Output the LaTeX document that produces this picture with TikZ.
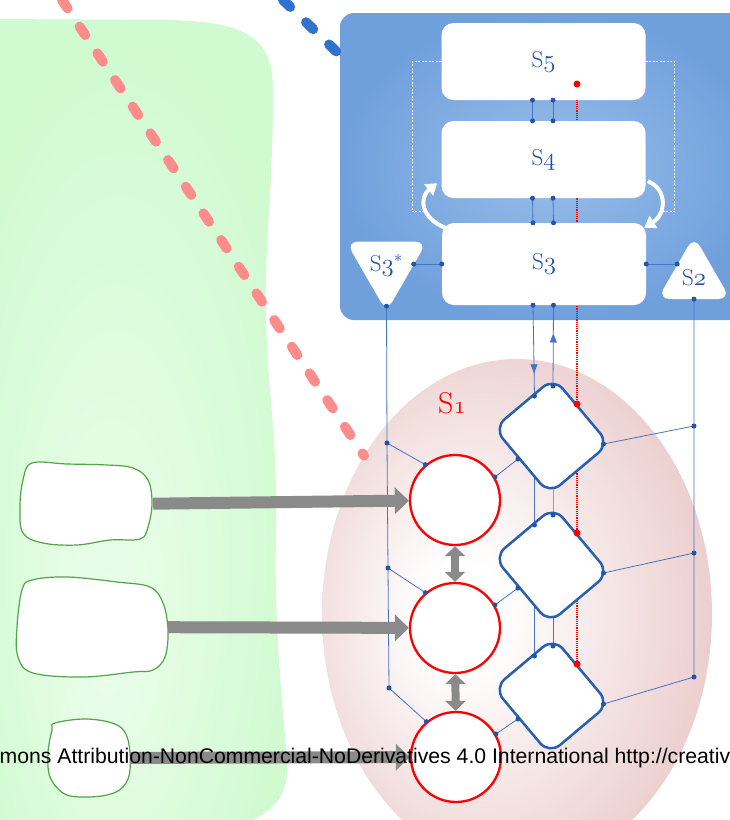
\documentclass[tikz,border=0pt]{standalone}
\usepackage{fontspec}
\usetikzlibrary{shapes, arrows.meta, positioning, calc, decorations.markings}
\newfontfamily\licfont{Liberation Sans}
\definecolor{panelout}{RGB}{112,160,220}
\definecolor{panelin}{RGB}{152,190,233}
\definecolor{labelblue}{RGB}{35,82,165}
\definecolor{wireblue}{RGB}{70,115,195}
\definecolor{dotblue}{RGB}{35,85,165}
\definecolor{tileblue}{RGB}{40,95,175}
\definecolor{zonepink}{RGB}{233,199,199}
\definecolor{fieldgreen}{RGB}{208,250,208}
\definecolor{fieldlight}{RGB}{236,254,236}
\definecolor{blobgreen}{RGB}{80,165,70}
\definecolor{feedgray}{RGB}{138,138,138}
\definecolor{dashpink}{RGB}{255,140,140}
\definecolor{dashblue}{RGB}{48,115,205}
\pgfdeclareradialshading{zoneshade}{\pgfpoint{-8bp}{0bp}}{color(0bp)=(white); color(5bp)=(white); color(28bp)=(zonepink!85!white); color(40bp)=(zonepink); color(50bp)=(zonepink)}
\pgfdeclareradialshading{fieldshade}{\pgfpoint{-6bp}{-14bp}}{color(0bp)=(fieldlight); color(30bp)=(fieldgreen); color(50bp)=(fieldgreen)}
\pgfdeclarelayer{bg}
\pgfdeclarelayer{wires}
\pgfsetlayers{bg,wires,main}
\newcommand{\osn}[1]{{\usefont{OML}{lmm}{m}{it}#1}}

\begin{document}
\begin{tikzpicture}[x=1pt, y=-1pt,
  sbox/.style={fill=white, rounded corners=12pt, minimum width=204pt, minimum height=77pt, text=labelblue, font=\fontsize{23}{25}\selectfont},
  tri/.style={regular polygon, regular polygon sides=3, fill=white, rounded corners=12pt, minimum size=84pt, inner sep=0pt, text=labelblue, font=\fontsize{23}{25}\selectfont},
  tile/.style={draw=tileblue, line width=2.5pt, fill=white, rounded corners=14pt, minimum width=86pt, minimum height=78pt, rotate=-50},
  ring/.style={circle, draw=red, line width=2.3pt, fill=white, minimum size=90pt},
  blob/.style={draw=blobgreen, line width=1.2pt, fill=white},
  wire/.style={draw=wireblue, line width=0.8pt},
  feed/.style={draw=feedgray, line width=12pt, -{Triangle[length=14pt, width=26pt]}},
  twoway/.style={draw=feedgray, line width=8pt, {Triangle[length=10pt, width=20pt]}-{Triangle[length=10pt, width=20pt]}},
  turn/.style={draw=white, line width=4pt, -{Triangle[length=11pt, width=14pt]}},
  guide/.style={draw=white, line width=0.8pt, dash pattern=on 2pt off 1.5pt},
  bigdash/.style={line width=10pt, line cap=round, dash pattern=on 10pt off 22pt}]
\useasboundingbox (0,0) rectangle (729,820);

% background regions
\begin{pgfonlayer}{bg}
\shade[shading=fieldshade] (-10,19) -- (170,20)
  .. controls (250,22) and (273,40) .. (273,90)
  .. controls (273,200) and (264,240) .. (266,320)
  .. controls (268,400) and (278,430) .. (276,540)
  .. controls (274,620) and (282,700) .. (287,760)
  .. controls (290,800) and (270,815) .. (230,830) -- (-10,830) -- cycle;
\node[ellipse, minimum width=390pt, minimum height=510pt, shading=zoneshade] (zone) at (517,614) {};
\node[rounded corners=14pt, minimum width=420pt, minimum height=307pt, inner color=panelin, outer color=panelout] (panel) at (550,166.5) {};
\coordinate (pinkstart) at (62,0);
\coordinate (bluestart) at (283,0);
\coordinate (bluetip) at (340,55);
\draw[bigdash, dashpink] (pinkstart) -- (zone.134);
\draw[bigdash, dashblue] (bluestart) -- (bluetip);
\end{pgfonlayer}

% upper panel
\node[sbox] (s5) at (543.5,61.5) {S\osn{5}};
\node[sbox] (s4) at (543.5,159.5) {S\osn{4}};
\node[sbox, minimum height=82pt] (s3) at (544,264) {S\osn{3}};
\node[tri, shape border rotate=180] (s3star) at (386.5,265) {S\osn{3}$^*$};
\node[tri] (s2) at (694,278) {S\osn{2}};

% lower part
\foreach \i/\y in {1/436, 2/565, 3/696}
  \node[tile] (d\i) at (551.5,\y) {};
\node[ring] (c1) at (455,500) {};
\node[ring] (c2) at (455,628) {};
\node[ring] (c3) at (456,757) {};
\node[text=red, font=\fontsize{30}{32}\selectfont] (s1) at (452,403) {S\osn{1}};

% hand drawn sources
\draw[blob] plot[smooth cycle, tension=0.6] coordinates {(32,463) (67,464) (107,465) (133,468) (148,480) (152,503)
  (148,527) (140,539) (110,540) (77,545) (43,543) (23,533) (20,507) (23,480)};
\draw[blob] plot[smooth cycle, tension=0.6] coordinates {(32,580) (67,577) (117,582) (150,587) (163,603) (168,630)
  (165,657) (153,670) (133,672) (83,677) (33,673) (18,657) (17,627) (22,590)};
\draw[blob] plot[smooth cycle, tension=0.6] coordinates {(55,723) (87,719) (117,725) (128,740) (130,770)
  (123,787) (107,795) (80,797) (63,793) (50,777) (48,753) (52,730)};
\node[minimum width=133pt, minimum height=83pt] (b1) at (86.5,504.5) {};
\node[minimum width=151pt, minimum height=100pt] (b2) at (92.5,627) {};
\node[minimum width=82pt, minimum height=80pt] (b3) at (89,758) {};

\foreach \i in {1,2,3} {
  \coordinate (dtop\i) at ($(d\i)+(1.5,-50)$);
  \coordinate (din\i) at ($(d\i)+(-17,-40)$);
  \coordinate (dred\i) at ($(d\i)+(25.5,-32)$);
  \coordinate (dout\i) at ($(d\i)+(52,8)$);
  \coordinate (dlow\i) at ($(d\i)+(-33.5,23)$);
}
\coordinate (lv1) at (387,443);
\coordinate (lv2) at (388,568);
\coordinate (lv3) at (389,688);
\coordinate (rv1) at (694,426);
\coordinate (rv2) at (694,553);
\coordinate (rv3) at (694,677);
\coordinate (redtop) at (577,84);
\coordinate (s3startip) at ($(s3star.corner 1)+(0,-6)$);
\coordinate (s2in) at ($(s2.corner 1)!0.46!(s2.corner 2)$);
\coordinate (s3stareast) at (s3.west -| s3star.east);
\coordinate (s2west) at (s3.east -| s2in);

% wires hidden behind the boxes
\begin{pgfonlayer}{wires}
\draw[red, line width=1.2pt, densely dotted] (redtop) -- (dred3);
\draw[wire] (din1) -- (din2) -- (din3);
\draw[wire] (dtop1) -- (dtop2) -- (dtop3);
\end{pgfonlayer}

\foreach \a/\b in {s5/s4, s4/s3}
  \foreach \dx in {-11, 9.5} {
    \draw[wire] ([xshift=\dx pt]\a.south) -- ([xshift=\dx pt]\b.north);
    \fill[dotblue] ([xshift=\dx pt]\a.south) circle[radius=2.5pt] ([xshift=\dx pt]\b.north) circle[radius=2.5pt];
  }
\draw[wire, postaction={decorate}, decoration={markings, mark=at position 0.75 with {\arrow{Triangle[length=9pt, width=7pt]}}}] ([xshift=-11pt]s3.south) -- (din1);
\draw[wire, postaction={decorate}, decoration={markings, mark=at position 0.65 with {\arrow{Triangle[length=9pt, width=7pt]}}}] (dtop1) -- ([xshift=9.5pt]s3.south);
\fill[dotblue] ([xshift=-11pt]s3.south) circle[radius=2.5pt] ([xshift=9.5pt]s3.south) circle[radius=2.5pt];

\draw[wire] (s3startip) -- (lv1) -- (lv2) -- (lv3);
\draw[wire] (s2.south) -- (rv1) -- (rv2) -- (rv3);
\draw[wire] (s3.west) -- (s3stareast);
\draw[wire] (s3.east) -- (s2west);
\foreach \i in {1,2,3} {
  \draw[wire] (lv\i) -- (c\i.130);
  \draw[wire] (c\i.30) -- (dlow\i);
  \draw[wire] (dout\i) -- (rv\i);
  \fill[dotblue] (c\i.130) circle[radius=2.5pt] (c\i.30) circle[radius=2.5pt];
  \fill[dotblue] (dtop\i) circle[radius=2.5pt] (din\i) circle[radius=2.5pt] (dout\i) circle[radius=2.5pt] (dlow\i) circle[radius=2.5pt];
  \fill[red] (dred\i) circle[radius=3.5pt];
}
\foreach \p in {s3startip, s2.south, lv1, lv2, lv3, rv1, rv2, rv3, s3.west, s3.east, s3stareast, s2west}
  \fill[dotblue] (\p) circle[radius=2.5pt];
\fill[red] (redtop) circle[radius=3.5pt];

% white guides and turning arrows
\draw[guide] (s5.west) -- ++(-29,0) -- ++(0,150) -- ++(12,0);
\draw[guide] (s5.east) -- ++(29,0) -- ++(0,150) -- ++(-12,0);
\draw[turn] ([shift={(6,6)}]s3.north west) .. controls +(-28,-10) and +(-18,14) .. ([shift={(-4,-15)}]s4.south west);
\draw[turn] ([shift={(2,-17)}]s4.south east) .. controls +(20,8) and +(22,-14) .. ([shift={(-2,5)}]s3.north east);

% gray arrows
\draw[feed] (b1) -- (c1);
\draw[feed] (b2) -- (c2);
\draw[feed] (b3) -- (c3);
\draw[twoway] (c1) -- (c2);
\draw[twoway] (c2) -- (c3);

\node[anchor=base west, inner sep=0pt, font=\licfont\fontsize{21.2}{24}\selectfont] (licence) at (-0.5,763) {mons Attribution-NonCommercial-NoDerivatives 4.0 International http://creativ};
\end{tikzpicture}
\end{document}
